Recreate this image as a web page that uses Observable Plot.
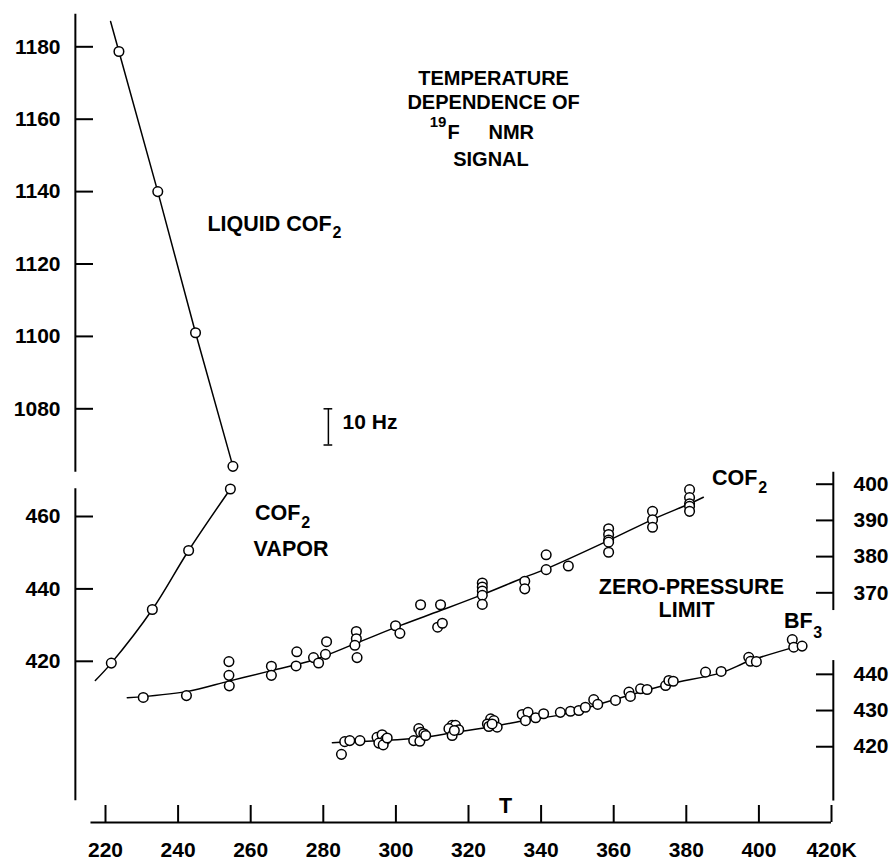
<!DOCTYPE html>
<html>
<head>
<meta charset="utf-8">
<script src="https://cdn.jsdelivr.net/npm/d3@7"></script>
<script src="https://cdn.jsdelivr.net/npm/@observablehq/plot@0.6"></script>
<style>
  html, body { margin: 0; padding: 0; background: #fff; }
  svg { display: block; }
</style>
</head>
<body>
<div id="chart"></div>
<script>
// ---------------- DATA ----------------
// Temperature ticks (K)
const xTicks = [220, 240, 260, 280, 300, 320, 340, 360, 380, 400, 420];
// Axis tick labels (Hz), one list per axis
const leftUpperTicks = [1080, 1100, 1120, 1140, 1160, 1180];
const leftLowerTicks = [420, 440, 460];
const rightUpperTicks = [370, 380, 390, 400];
const rightLowerTicks = [420, 430, 440];

// Liquid COF2 (left upper axis, Hz)
const liquidT = [223.7, 234.4, 244.8, 255.1];
const liquidHz = [1178.7, 1140.0, 1101.0, 1064.1];
const liquidCurveT = [221.4, 223.7, 234.4, 244.8, 255.1];
const liquidCurveHz = [1187.0, 1178.7, 1140.0, 1101.0, 1064.1];

// COF2 vapor (left lower axis, Hz)
const vaporT = [221.6, 232.9, 242.9, 254.4];
const vaporHz = [419.5, 434.3, 450.6, 467.6];
const vaporCurveT = [217.2, 221.6, 232.9, 242.9, 254.4];
const vaporCurveHz = [414.7, 419.5, 434.3, 450.6, 467.6];

// COF2 zero-pressure limit (right upper axis, Hz)
const cof2T = [230.4, 242.3, 254.0, 254.0, 254.1, 265.7, 265.7, 272.7, 272.5, 277.3, 278.7, 280.9, 280.6,
  289.1, 289.1, 288.7, 289.3, 299.9, 301.1, 306.8, 312.3, 311.5, 312.8, 323.8, 323.8, 323.8, 323.8, 323.8,
  335.5, 335.5, 341.4, 341.4, 347.5, 358.6, 358.6, 358.6, 358.6, 358.6, 370.7, 370.7, 370.7,
  380.9, 380.9, 380.9, 380.9, 380.9];
const cof2Hz = [341.1, 341.6, 351.0, 347.2, 344.3, 349.7, 347.2, 353.7, 349.8, 352.1, 350.6, 356.5, 353.0,
  359.3, 357.3, 355.5, 352.1, 360.9, 358.8, 366.7, 366.7, 360.5, 361.6, 372.7, 371.6, 370.5, 369.3, 366.8,
  373.2, 371.1, 380.5, 376.4, 377.4, 387.7, 386.1, 384.6, 384.0, 381.2, 392.5, 390.2, 388.1,
  398.5, 396.3, 394.6, 393.9, 392.5];
const cof2CurveT = [226.0, 242.3, 254.0, 265.7, 277.4, 289.1, 301.3, 312.3, 323.8, 335.5, 341.4, 358.5, 370.8, 380.9, 384.7];
const cof2CurveHz = [341.0, 342.7, 345.6, 348.5, 351.5, 356.1, 361.0, 365.1, 369.5, 374.3, 376.6, 384.4, 390.3, 394.6, 396.4];

// BF3 zero-pressure limit (right lower axis, Hz)
const bf3T = [285.0, 285.9, 287.3, 290.1, 294.8, 296.2, 297.1, 295.3, 296.5, 297.6, 306.3, 306.8, 307.7, 304.9,
  306.6, 308.2, 315.5, 316.4, 314.6, 317.3, 315.5, 316.1, 326.1, 327.0, 325.2, 327.9, 325.6, 326.5, 334.8,
  336.4, 335.7, 338.5, 340.7, 345.3, 348.1, 350.4, 352.2, 354.5, 355.6, 360.5, 364.2, 364.6, 367.4, 369.2,
  374.3, 375.2, 376.4, 385.3, 389.6, 397.2, 397.7, 399.3, 409.2, 409.6, 411.9];
const bf3Hz = [417.9, 421.4, 421.7, 421.7, 422.6, 423.3, 421.9, 421.0, 420.5, 422.4, 425.0, 424.0, 423.6, 421.7,
  421.5, 423.1, 425.9, 425.9, 425.0, 424.7, 423.1, 424.5, 427.7, 427.2, 426.3, 425.4, 425.6, 426.3, 428.9,
  429.5, 427.2, 428.0, 429.1, 429.5, 429.8, 430.0, 430.9, 433.0, 431.7, 432.8, 435.1, 433.9, 436.0, 435.8,
  436.9, 438.3, 438.1, 440.6, 440.8, 444.7, 443.6, 443.5, 449.6, 447.5, 447.8];
const bf3CurveT = [282.5, 296.0, 306.8, 316.4, 326.6, 336.3, 345.3, 356.4, 367.4, 375.6, 389.4, 397.7, 411.5];
const bf3CurveHz = [421.1, 421.7, 422.5, 424.0, 425.6, 427.4, 428.8, 431.9, 435.1, 437.4, 440.4, 443.8, 448.0];

// Scale bar: 10 Hz
const scaleBarHz = [1070, 1080];

// ---------------- LAYOUT / SCALE CONFIG ----------------
// All four frequency axes share one Hz-per-pixel scale; each is shifted onto a common coordinate
const shift = { leftUpper: -590.25, leftLower: 0, rightUpper: 68.92, rightLower: -23.6 };
const toCommon = (axis) => (v) => v + shift[axis];

const T_LEFT = 211.7, T_RIGHT = 420.5, T_SCALEBAR = 281.4;
const Y_BOTTOM = 375.5; // common-coordinate level of the temperature axis
const axisSpans = [
  { axis: "leftUpper", t: T_LEFT, from: 1062.5, to: 1189 },
  { axis: "leftLower", t: T_LEFT, from: 381.5, to: 467.7 },
  { axis: "rightUpper", t: T_RIGHT, from: 365.1, to: 403.3 },
  { axis: "rightLower", t: T_RIGHT, from: 405.0, to: 443.8 }
];
const xSpan = [216, 420];

const FONT = "'Liberation Sans', Arial, Helvetica, sans-serif";

const pts = (T, H, axis) => T.map((t, i) => ({ t, v: toCommon(axis)(H[i]) }));

// annotations (positions in common coordinate)
const labels = [
  { text: "TEMPERATURE", t: 326.9, v: 579.1, anchor: "middle", size: 20 },
  { text: "DEPENDENCE OF", t: 326.9, v: 572.7, anchor: "middle", size: 20 },
  { text: "19", t: 313.9, v: 567.5, anchor: "end", size: 15 },
  { text: "F", t: 314.2, v: 564.4, anchor: "start", size: 20 },
  { text: "NMR", t: 325.5, v: 564.4, anchor: "start", size: 20 },
  { text: "SIGNAL", t: 326.2, v: 556.9, anchor: "middle", size: 20 },
  { text: "LIQUID COF", t: 282.3, v: 539.0, anchor: "end", size: 21.5 },
  { text: "2", t: 282.5, v: 536.8, anchor: "start", size: 16 },
  { text: "COF", t: 273.7, v: 458.9, anchor: "end", size: 21.5 },
  { text: "2", t: 273.9, v: 456.7, anchor: "start", size: 16 },
  { text: "VAPOR", t: 260.8, v: 449.2, anchor: "start", size: 21.5 },
  { text: "COF", t: 399.6, v: 468.6, anchor: "end", size: 21.5 },
  { text: "2", t: 399.8, v: 466.4, anchor: "start", size: 16 },
  { text: "ZERO-PRESSURE", t: 381.4, v: 438.7, anchor: "middle", size: 21.5 },
  { text: "LIMIT", t: 380.1, v: 432.1, anchor: "middle", size: 21.5 },
  { text: "BF", t: 414.8, v: 429.1, anchor: "end", size: 21.5 },
  { text: "3", t: 415.0, v: 426.3, anchor: "start", size: 16 },
  { text: "T", t: 330.2, v: 378.2, anchor: "middle", size: 21.5 },
  { text: "10 Hz", t: 285.3, v: 484.3, anchor: "start", size: 21 }
];

const textMarks = labels.map(d => Plot.text([d], {
  x: "t", y: "v", text: "text", textAnchor: d.anchor, lineAnchor: "bottom",
  fontSize: d.size, fontWeight: "bold", fontFamily: FONT, fill: "black"
}));

const axisCommon = { fontSize: 21, fontWeight: "bold", fontFamily: FONT, strokeWidth: 2, label: null };

const chart = Plot.plot({
  width: 893,
  height: 861,
  marginLeft: 75,
  marginRight: 60,
  marginTop: 14,
  marginBottom: 39,
  style: { fontFamily: FONT, color: "black", background: "white" },
  x: { domain: [220, 420], range: [105, 831] },
  y: { domain: [460, 420], range: [516, 660.8] },
  marks: [
    // axis lines (broken vertical axes)
    Plot.ruleX(axisSpans, {
      x: "t",
      y1: d => toCommon(d.axis)(d.from),
      y2: d => toCommon(d.axis)(d.to),
      strokeWidth: 2
    }),
    Plot.ruleY([Y_BOTTOM], { x1: xSpan[0], x2: xSpan[1], strokeWidth: 2 }),

    // ticks and labels
    Plot.axisX(xTicks, { ...axisCommon, anchor: "bottom", tickSize: -17, tickPadding: 37,
      tickFormat: d => d === 420 ? "420K" : String(d) }),
    Plot.axisY(leftUpperTicks.map(toCommon("leftUpper")), { ...axisCommon, anchor: "left", tickSize: -18, tickPadding: 33,
      tickFormat: d => String(Math.round(d - shift.leftUpper)) }),
    Plot.axisY(leftLowerTicks.map(toCommon("leftLower")), { ...axisCommon, anchor: "left", tickSize: -18, tickPadding: 33,
      tickFormat: d => String(Math.round(d - shift.leftLower)) }),
    Plot.axisY(rightUpperTicks.map(toCommon("rightUpper")), { ...axisCommon, anchor: "right", tickSize: -18, tickPadding: 38,
      tickFormat: d => String(Math.round(d - shift.rightUpper)) }),
    Plot.axisY(rightLowerTicks.map(toCommon("rightLower")), { ...axisCommon, anchor: "right", tickSize: -18, tickPadding: 38,
      tickFormat: d => String(Math.round(d - shift.rightLower)) }),

    // 10 Hz scale bar
    Plot.ruleX([0], { x: () => T_SCALEBAR, y1: () => toCommon("leftUpper")(scaleBarHz[0]), y2: () => toCommon("leftUpper")(scaleBarHz[1]), strokeWidth: 1.5 }),
    Plot.ruleY(scaleBarHz.map(toCommon("leftUpper")), { x1: T_SCALEBAR - 1.2, x2: T_SCALEBAR + 1.2, strokeWidth: 1.5 }),

    // fitted curves
    Plot.line(pts(liquidCurveT, liquidCurveHz, "leftUpper"), { x: "t", y: "v", stroke: "black", strokeWidth: 1.5 }),
    Plot.line(pts(vaporCurveT, vaporCurveHz, "leftLower"), { x: "t", y: "v", stroke: "black", strokeWidth: 1.5, curve: "catmull-rom" }),
    Plot.line(pts(cof2CurveT, cof2CurveHz, "rightUpper"), { x: "t", y: "v", stroke: "black", strokeWidth: 1.5, curve: "catmull-rom" }),
    Plot.line(pts(bf3CurveT, bf3CurveHz, "rightLower"), { x: "t", y: "v", stroke: "black", strokeWidth: 1.5, curve: "catmull-rom" }),

    // measured points
    Plot.dot(pts(liquidT, liquidHz, "leftUpper"), { x: "t", y: "v", r: 4.8, fill: "white", stroke: "black", strokeWidth: 1.5 }),
    Plot.dot(pts(vaporT, vaporHz, "leftLower"), { x: "t", y: "v", r: 4.8, fill: "white", stroke: "black", strokeWidth: 1.5 }),
    Plot.dot(pts(cof2T, cof2Hz, "rightUpper"), { x: "t", y: "v", r: 4.8, fill: "white", stroke: "black", strokeWidth: 1.5 }),
    Plot.dot(pts(bf3T, bf3Hz, "rightLower"), { x: "t", y: "v", r: 4.8, fill: "white", stroke: "black", strokeWidth: 1.5 }),

    ...textMarks
  ]
});

document.getElementById("chart").appendChild(chart);
</script>
</body>
</html>
